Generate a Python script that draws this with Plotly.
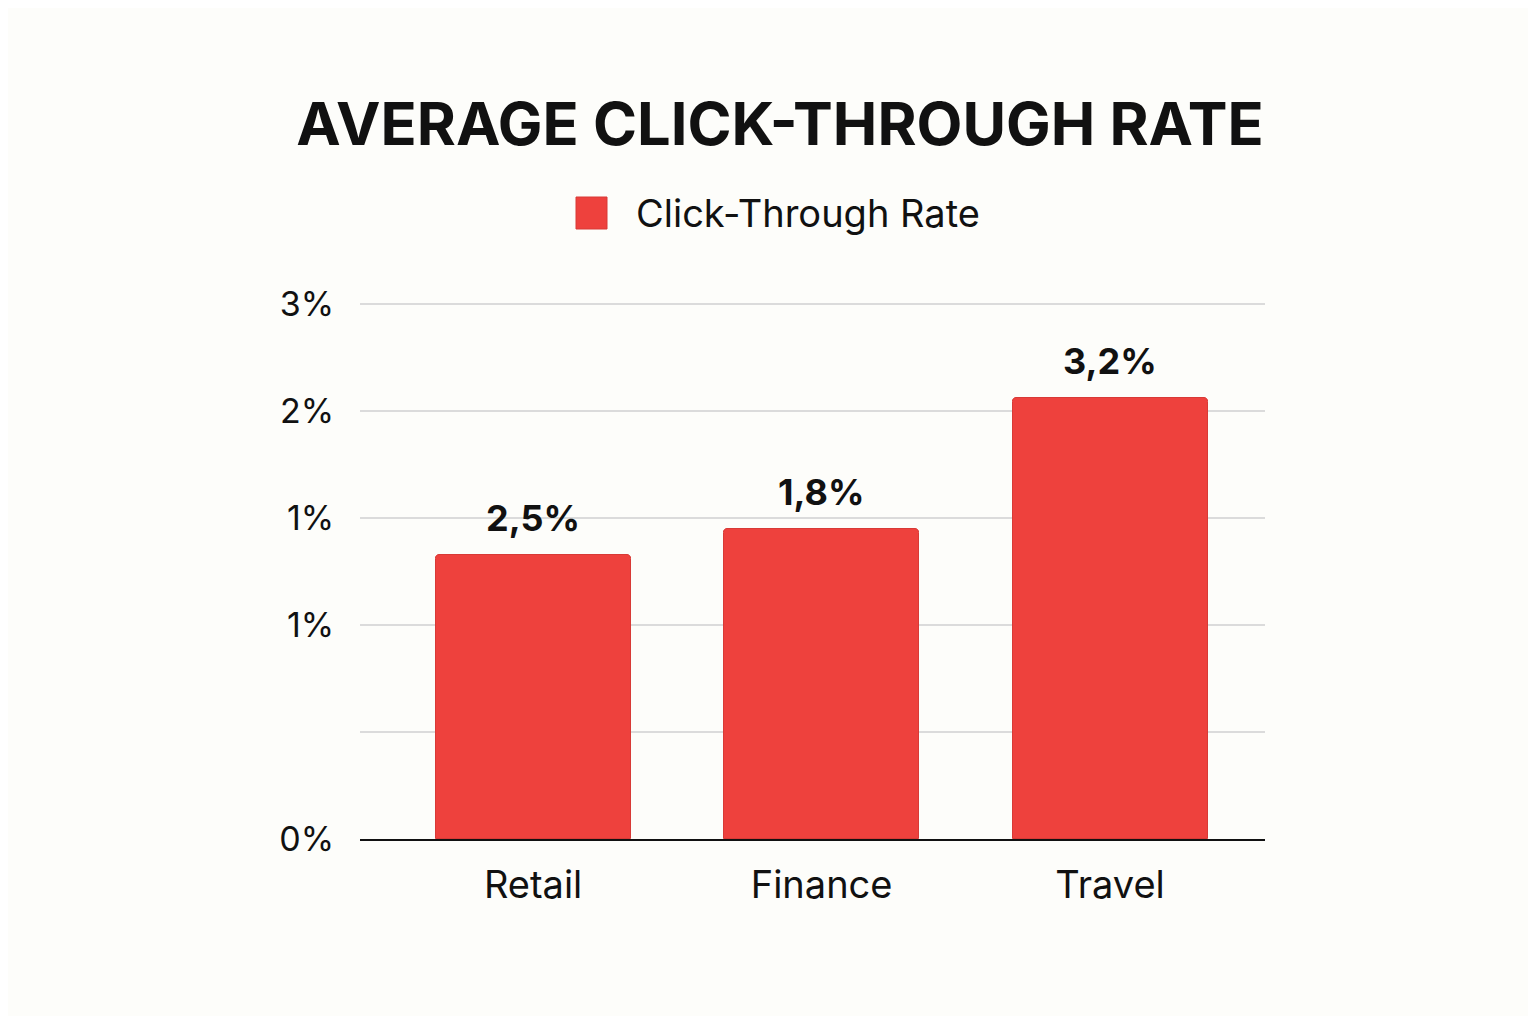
import plotly.graph_objects as go

# data
categories = ['Retail', 'Finance', 'Travel']
bar_heights = [1.59, 1.74, 2.47]          # as drawn on the axis (%)
bar_labels = ['2,5%', '1,8%', '3,2%']     # labels printed above bars
tick_vals = [0, 0.6, 1.2, 1.8, 2.4, 3.0]
tick_text = ['0%', '', '1%', '1%', '2%', '3%']

RED = '#EE413D'
BG = '#FDFDFA'
FONT = 'Inter'

# page has an 8px body margin, so the figure is drawn 8px in from the corner
W, H = 1520, 1008
L, R, T, B = 352, 263, 294, 177
pw, ph = W - L - R, H - T - B

fig = go.Figure()
fig.add_trace(go.Bar(
    x=categories, y=bar_heights,
    marker=dict(color=RED, line=dict(color='#D83A36', width=1), cornerradius=4),
    width=0.676, showlegend=False,
))

for cat, h, lab in zip(categories, bar_heights, bar_labels):
    fig.add_annotation(x=cat, y=h, text=lab, showarrow=False,
                       yanchor='bottom', yshift=13,
                       font=dict(family=FONT, size=36, color='#111111', weight='bold'))

# legend drawn as a swatch + label
fig.add_shape(type='rect', xref='paper', yref='paper',
              x0=(568 - L) / pw, x1=(599 - L) / pw,
              y0=(H - B - 221) / ph, y1=(H - B - 189) / ph,
              fillcolor=RED, line=dict(color='#D83A36', width=1))
fig.add_annotation(text='Click-Through Rate', xref='paper', yref='paper',
                   x=(626 - L) / pw, y=(H - B - 205) / ph,
                   xanchor='left', yanchor='middle', showarrow=False,
                   font=dict(family=FONT, size=38, color='#111111'))

fig.update_layout(
    width=W, height=H,
    paper_bgcolor=BG, plot_bgcolor=BG,
    margin=dict(l=L, r=R, t=T, b=B),
    title=dict(text='AVERAGE CLICK-THROUGH RATE', x=772 / W, xanchor='center',
               y=1 - 116 / H, yanchor='middle',
               font=dict(family=FONT, size=59.6, color='#111111', weight='bold')),
    font=dict(family=FONT, color='#111111'),
    xaxis=dict(range=[-0.6, 2.537], showgrid=False, ticks='outside', ticklen=11,
               tickcolor='rgba(0,0,0,0)', tickfont=dict(size=38),
               showline=True, linecolor='#111111', linewidth=2),
    yaxis=dict(range=[0, 3.01], tickvals=tick_vals, ticktext=tick_text,
               showgrid=True, gridcolor='#DBDBDB', gridwidth=2,
               zeroline=False, ticks='outside', ticklen=18,
               tickcolor='rgba(0,0,0,0)', tickfont=dict(size=34)),
    bargap=0,
)

fig.write_html('out.html')
